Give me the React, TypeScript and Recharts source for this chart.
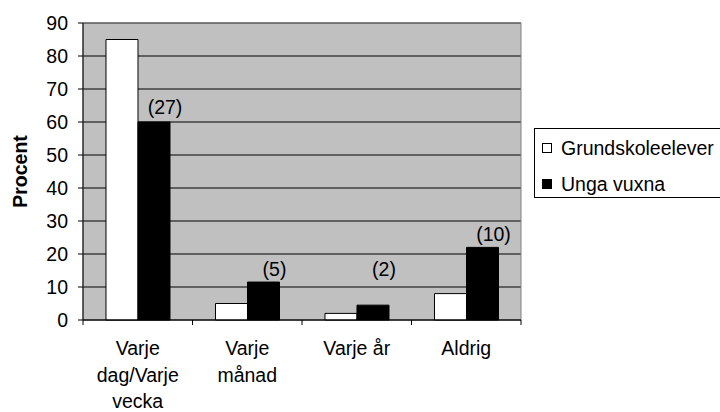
import { BarChart, Bar, XAxis, YAxis, CartesianGrid, Legend, LabelList, ReferenceArea, Label } from 'recharts';

const categories = ['Varje\ndag/Varje\nvecka', 'Varje\nmånad', 'Varje år', 'Aldrig'];
const grundskoleelever = [85, 5, 2, 8];
const ungaVuxna = [60, 11.5, 4.5, 22];
const ungaAntal = ['(27)', '(5)', '(2)', '(10)'];
// where the (n) text sits, in percent units
const antalPos = [64.5, 15.5, 15.5, 26];
const yTicks = [0, 10, 20, 30, 40, 50, 60, 70, 80, 90];

const FONT = '"Liberation Sans", Arial, sans-serif';
const FS = 19.5;

const data = categories.map((name, i) => ({
  name,
  grund: grundskoleelever[i],
  unga: ungaVuxna[i],
}));

function CategoryTick(props: any) {
  const { x, y, payload, index } = props;
  const off = payload?.offset ?? 54.75;
  const lines = String(payload.value).split('\n');
  return (
    <g>
      <line x1={x - off} y1={y} x2={x - off} y2={y + 5} stroke="#000" />
      {index === categories.length - 1 && (
        <line x1={x + off} y1={y} x2={x + off} y2={y + 5} stroke="#000" />
      )}
      {lines.map((l, i) => (
        <text key={i} x={x} y={y + 35 + i * 26.5} textAnchor="middle" fontSize={FS} fontFamily={FONT} fill="#000">
          {l}
        </text>
      ))}
    </g>
  );
}

function AntalLabel(props: any) {
  const { x, y, width, height, index } = props;
  const v = ungaVuxna[index];
  const zeroY = y + height;
  const py = zeroY - (antalPos[index] * height) / v;
  return (
    <text x={x + width / 2 + 11} y={py} dy={7} textAnchor="middle" fontSize={FS} fontFamily={FONT} fill="#000">
      {ungaAntal[index]}
    </text>
  );
}

function LegendBox() {
  const items = [
    { label: 'Grundskoleelever', fill: '#fff' },
    { label: 'Unga vuxna', fill: '#000' },
  ];
  return (
    <div
      style={{
        border: '1px solid #000',
        width: 200,
        height: 70,
        boxSizing: 'border-box',
        background: '#fff',
        position: 'relative',
        fontFamily: FONT,
        fontSize: FS,
      }}
    >
      {items.map((it, i) => (
        <div key={it.label} style={{ position: 'absolute', left: 7, top: 7 + i * 36, height: 24, display: 'flex', alignItems: 'center' }}>
          <span style={{ width: 8, height: 8, border: '1px solid #000', background: it.fill, display: 'inline-block' }} />
          <span style={{ marginLeft: 9, color: '#000', whiteSpace: 'nowrap' }}>{it.label}</span>
        </div>
      ))}
    </div>
  );
}

export default function App() {
  return (
    <div style={{ position: 'absolute', left: 0, top: 0, width: 720, height: 412, background: '#fff', overflow: 'hidden' }}>
      <BarChart
        width={720}
        height={412}
        data={data}
        margin={{ top: 23, right: 199, bottom: 0, left: 0 }}
        barCategoryGap="21%"
        barGap={0}
      >
        <CartesianGrid vertical={false} stroke="#000" fill="#C0C0C0" fillOpacity={1} />
        <ReferenceArea y1={0} y2={90} fill="none" stroke="#808080" strokeWidth={1} />
        <XAxis
          dataKey="name"
          height={92}
          axisLine={{ stroke: '#000' }}
          tickLine={false}
          tickSize={0}
          tickMargin={0}
          interval={0}
          tick={<CategoryTick />}
        />
        <YAxis
          width={83}
          domain={[0, 90]}
          ticks={yTicks}
          interval={0}
          axisLine={{ stroke: '#000' }}
          tickLine={{ stroke: '#000' }}
          tickSize={5}
          tickMargin={10}
          tick={{ fontSize: FS, fontFamily: FONT, fill: '#000' }}
        >
          <Label
            content={({ viewBox }: any) => {
              const cx = viewBox.x + 20;
              const cy = viewBox.y + viewBox.height / 2;
              return (
                <text x={cx} y={cy} transform={`rotate(-90 ${cx} ${cy})`} dy={7} textAnchor="middle" fontSize={FS} fontWeight="bold" fontFamily={FONT} fill="#000">
                  Procent
                </text>
              );
            }}
          />
        </YAxis>
        <Legend
          layout="horizontal"
          verticalAlign="middle"
          wrapperStyle={{ position: 'absolute', left: 534, top: 128, width: 200 }}
          content={() => <LegendBox />}
        />
        <Bar dataKey="grund" name="Grundskoleelever" fill="#fff" stroke="#000" strokeWidth={1} isAnimationActive={false} />
        <Bar dataKey="unga" name="Unga vuxna" fill="#000" stroke="#000" strokeWidth={1} isAnimationActive={false}>
          <LabelList dataKey="unga" content={<AntalLabel />} />
        </Bar>
      </BarChart>
    </div>
  );
}
